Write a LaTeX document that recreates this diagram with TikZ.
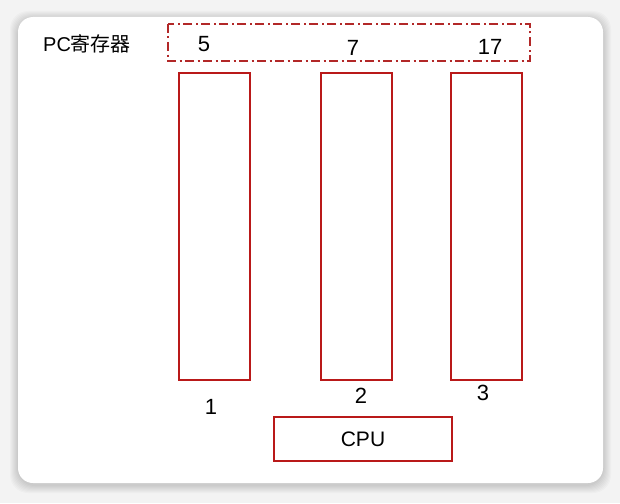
\documentclass[tikz,border=0pt]{standalone}
\usepackage{fontspec}
\setmainfont{Liberation Sans}
\newfontfamily\cjk{Noto Sans CJK SC}
\begin{document}
\begin{tikzpicture}[x=1pt,y=-1pt,
  membox/.style={draw=boxred,line width=1.8pt,inner sep=0pt},
  numlabel/.style={font=\fontsize{22}{24}\selectfont,inner sep=0pt},
]
\definecolor{boxred}{RGB}{185,25,25}
\definecolor{dashred}{RGB}{178,40,40}
\definecolor{bg}{RGB}{243,243,243}
\useasboundingbox (0,0) rectangle (620,503);
\fill[bg] (0,0) rectangle (620,503);
% shadow
\foreach \i in {1,...,8}{
  \fill[black,opacity=0.018,rounded corners=18pt] (18-\i,17-\i+2) rectangle (603+\i,483+\i+2);
}
\fill[white,rounded corners=15pt] (18,17) rectangle (603,483);
% PC register
\node[font=\fontsize{20}{22}\selectfont,inner sep=0pt,anchor=west] (pclabel) at (43,44) {PC{\cjk 寄存器}};
\draw[dashred,line width=1.9pt,dash pattern=on 9pt off 3.5pt on 2pt off 3.5pt] (168,24) rectangle (530,61);
\node[numlabel] (p5) at (204,44) {5};
\node[numlabel] (p7) at (353,48) {7};
\node[numlabel] (p17) at (490,47) {17};
% memory boxes
\node[membox,minimum width=71pt,minimum height=307pt] (b1) at (214.5,226.5) {};
\node[membox,minimum width=71pt,minimum height=307pt] (b2) at (356.5,226.5) {};
\node[membox,minimum width=71pt,minimum height=307pt] (b3) at (486.5,226.5) {};
\node[numlabel] (l1) at (211,407) {1};
\node[numlabel] (l2) at (361,396) {2};
\node[numlabel] (l3) at (483,393) {3};
% CPU
\node[membox,minimum width=178pt,minimum height=44pt,font=\fontsize{21}{23}\selectfont] (cpu) at (363,439) {CPU};
\end{tikzpicture}
\end{document}
